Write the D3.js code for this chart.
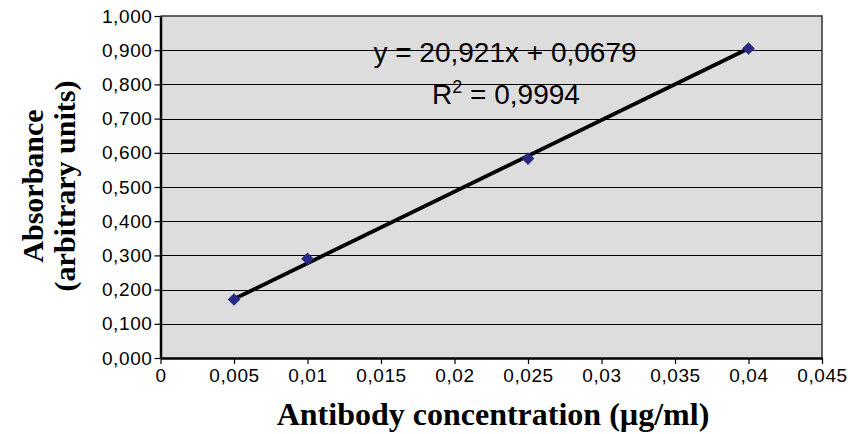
<!DOCTYPE html>
<html>
<head>
<meta charset="utf-8">
<script src="https://d3js.org/d3.v7.min.js"></script>
<style>
  body { margin: 0; background: #fff; }
  svg { display: block; }
</style>
</head>
<body>
<div id="chart"></div>
<script>
// data
const concentration = [0.005, 0.01, 0.025, 0.04];
const absorbance = [0.171, 0.290, 0.583, 0.905];
const xTicks = [0, 0.005, 0.01, 0.015, 0.02, 0.025, 0.03, 0.035, 0.04, 0.045];
const xTickLabels = ["0", "0,005", "0,01", "0,015", "0,02", "0,025", "0,03", "0,035", "0,04", "0,045"];
const yTicks = [0, 0.1, 0.2, 0.3, 0.4, 0.5, 0.6, 0.7, 0.8, 0.9, 1.0];
const yTickLabels = ["0,000", "0,100", "0,200", "0,300", "0,400", "0,500", "0,600", "0,700", "0,800", "0,900", "1,000"];
const slope = 20.921;
const intercept = 0.0679;
const equationLines = ["y = 20,921x + 0,0679", "R", " = 0,9994"];

const width = 848;
const height = 434;
const margin = { top: 16, right: 26, bottom: 76, left: 160.5 };

const svg = d3.select("#chart")
    .append("svg")
    .attr("width", width)
    .attr("height", height);

const xScale = d3.scaleLinear()
    .domain([0, 0.045])
    .range([margin.left, width - margin.right]);

const yScale = d3.scaleLinear()
    .domain([0, 1])
    .range([height - margin.bottom, margin.top]);

// plot background
svg.append("rect")
    .attr("x", xScale(0))
    .attr("y", yScale(1))
    .attr("width", xScale(0.045) - xScale(0))
    .attr("height", yScale(0) - yScale(1))
    .attr("fill", "#dddddd");

// gridlines
svg.append("g")
    .selectAll("line")
    .data(yTicks.filter(d => d > 0 && d < 1))
    .enter()
    .append("line")
    .attr("x1", xScale(0))
    .attr("x2", xScale(0.045))
    .attr("y1", d => Math.round(yScale(d)) + 0.5)
    .attr("y2", d => Math.round(yScale(d)) + 0.5)
    .attr("stroke", "#000")
    .attr("stroke-width", 1.2);

// top and right border
svg.append("path")
    .attr("d", `M${xScale(0)},${yScale(1)}H${xScale(0.045)}V${yScale(0)}`)
    .attr("fill", "none")
    .attr("stroke", "#333")
    .attr("stroke-width", 1.5);

// axes
const xAxis = d3.axisBottom(xScale)
    .tickValues(xTicks)
    .tickFormat((d, i) => xTickLabels[i])
    .tickSize(6)
    .tickPadding(5)
    .tickSizeOuter(0);

const yAxis = d3.axisLeft(yScale)
    .tickValues(yTicks)
    .tickFormat((d, i) => yTickLabels[i])
    .tickSize(6)
    .tickPadding(2)
    .tickSizeOuter(0);

const gx = svg.append("g")
    .attr("transform", `translate(0, ${yScale(0)})`)
    .call(xAxis);

const gy = svg.append("g")
    .attr("transform", `translate(${xScale(0)}, 0)`)
    .call(yAxis);

[gx, gy].forEach(g => {
    g.select(".domain").attr("stroke", "#000").attr("stroke-width", 2.5);
    g.selectAll(".tick line").attr("stroke", "#000").attr("stroke-width", 1.2);
    g.selectAll(".tick text")
        .attr("fill", "#000")
        .style("font-family", "'Liberation Sans', Arial, sans-serif")
        .style("font-size", "19px")
        .style("letter-spacing", "0.6px");
});

// trend line
const trend = [concentration[0], concentration[concentration.length - 1]];
svg.append("line")
    .attr("x1", xScale(trend[0]))
    .attr("y1", yScale(slope * trend[0] + intercept))
    .attr("x2", xScale(trend[1]))
    .attr("y2", yScale(slope * trend[1] + intercept))
    .attr("stroke", "#000")
    .attr("stroke-width", 3.8);

// markers
svg.append("g")
    .selectAll("path")
    .data(concentration)
    .enter()
    .append("path")
    .attr("d", d3.symbol().type(d3.symbolSquare).size(80))
    .attr("transform", (d, i) => `translate(${xScale(d)}, ${yScale(absorbance[i])}) rotate(45)`)
    .attr("fill", "#2a2a86");

// equation label
const eq = svg.append("g")
    .style("font-family", "'Liberation Sans', Arial, sans-serif")
    .style("font-size", "28px")
    .attr("fill", "#000");

eq.append("text")
    .attr("x", 505)
    .attr("y", 62)
    .attr("text-anchor", "middle")
    .text(equationLines[0]);

const r2 = eq.append("text")
    .attr("x", 506)
    .attr("y", 104)
    .attr("text-anchor", "middle");
r2.append("tspan").text(equationLines[1]);
r2.append("tspan").attr("dy", -11).style("font-size", "18px").text("2");
r2.append("tspan").attr("dy", 11).text(equationLines[2]);

// axis titles
svg.append("text")
    .attr("x", 493)
    .attr("y", 425)
    .attr("text-anchor", "middle")
    .style("font-family", "'Liberation Serif', 'Times New Roman', serif")
    .style("font-weight", "bold")
    .style("font-size", "32px")
    .text("Antibody concentration (µg/ml)");

const yTitle = svg.append("text")
    .attr("transform", "translate(0, 186) rotate(-90)")
    .attr("text-anchor", "middle")
    .style("font-family", "'Liberation Serif', 'Times New Roman', serif")
    .style("font-weight", "bold")
    .style("font-size", "30px");
yTitle.append("tspan").attr("x", 0).attr("y", 43).text("Absorbance");
yTitle.append("tspan").attr("x", 0).attr("y", 75).text("(arbitrary units)");
</script>
</body>
</html>
